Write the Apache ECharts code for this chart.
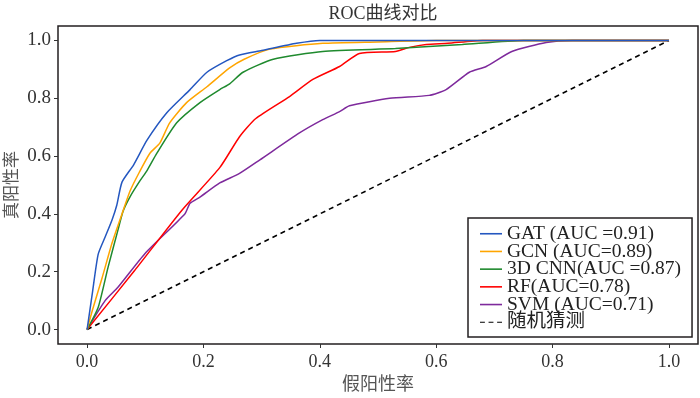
<!DOCTYPE html>
<html>
<head>
<meta charset="utf-8">
<script src="https://cdn.jsdelivr.net/npm/echarts@6/dist/echarts.min.js"></script>
<style>
* { margin: 0; padding: 0; }
#main { width: 700px; height: 398px; }
</style>
</head>
<body>
<div id="main"></div>
<script>
// 各模型的 ROC 数据
const gatFpr = [0, 0.009, 0.019, 0.031, 0.043, 0.051, 0.06, 0.08, 0.103, 0.137, 0.177, 0.206, 0.24, 0.262, 0.3, 0.36, 0.4, 0.6, 1];
const gatTpr = [0, 0.125, 0.26, 0.32, 0.38, 0.43, 0.51, 0.57, 0.655, 0.75, 0.83, 0.89, 0.93, 0.95, 0.965, 0.99, 1.0, 1.0, 1.0];

const gcnFpr = [0, 0.009, 0.026, 0.043, 0.06, 0.074, 0.09, 0.108, 0.125, 0.142, 0.171, 0.206, 0.245, 0.27, 0.314, 0.405, 0.5, 0.6, 1];
const gcnTpr = [0, 0.066, 0.18, 0.30, 0.40, 0.48, 0.545, 0.61, 0.645, 0.715, 0.785, 0.84, 0.905, 0.935, 0.97, 0.99, 0.995, 1.0, 1.0];

const cnnFpr = [0, 0.019, 0.036, 0.053, 0.062, 0.074, 0.091, 0.103, 0.12, 0.154, 0.194, 0.228, 0.245, 0.268, 0.32, 0.405, 0.53, 0.645, 0.75, 1];
const cnnTpr = [0, 0.076, 0.215, 0.344, 0.41, 0.46, 0.515, 0.55, 0.61, 0.715, 0.785, 0.83, 0.85, 0.89, 0.935, 0.962, 0.972, 0.986, 1.0, 1.0];

const rfFpr = [0, 0.082, 0.163, 0.228, 0.262, 0.29, 0.348, 0.388, 0.434, 0.468, 0.53, 0.554, 0.583, 0.62, 0.68, 1];
const rfTpr = [0, 0.205, 0.413, 0.56, 0.667, 0.73, 0.806, 0.865, 0.91, 0.955, 0.962, 0.976, 0.986, 0.99, 1.0, 1.0];

const svmFpr = [0, 0.031, 0.053, 0.1, 0.168, 0.177, 0.194, 0.228, 0.262, 0.297, 0.365, 0.405, 0.434, 0.451, 0.52, 0.588, 0.617, 0.657, 0.686, 0.73, 0.789, 0.834, 1];
const svmTpr = [0, 0.10, 0.146, 0.264, 0.40, 0.437, 0.458, 0.507, 0.54, 0.587, 0.68, 0.726, 0.754, 0.774, 0.80, 0.81, 0.83, 0.89, 0.91, 0.962, 0.993, 1.0, 1.0];

const randFpr = [0, 1];
const randTpr = [0, 1];

const names = ['GAT (AUC =0.91)', 'GCN (AUC=0.89)', '3D CNN(AUC =0.87)', 'RF(AUC=0.78)', 'SVM (AUC=0.71)', '随机猜测'];
const colors = ['#2457c0', '#ffa500', '#1f8a2e', '#ff0000', '#7e2a9c', '#000000'];
const tickValues = [0, 0.2, 0.4, 0.6, 0.8, 1.0];

function pairs(xs, ys) {
  return xs.map((x, i) => [x, ys[i]]);
}

const serif = '"Liberation Serif", "Noto Sans CJK SC", serif';

var chart = echarts.init(document.getElementById('main'));

const curves = [
  pairs(gatFpr, gatTpr),
  pairs(gcnFpr, gcnTpr),
  pairs(cnnFpr, cnnTpr),
  pairs(rfFpr, rfTpr),
  pairs(svmFpr, svmTpr)
];

let series = curves.map((d, i) => ({
  name: names[i],
  type: 'line',
  data: d,
  symbol: 'none',
  smooth: 0.2,
  lineStyle: { color: colors[i], width: 1.5 },
  itemStyle: { color: colors[i] },
  z: 10 - i
}));
series.push({
  name: names[5],
  type: 'line',
  data: pairs(randFpr, randTpr),
  symbol: 'none',
  lineStyle: { color: '#000', width: 1.6, type: [5, 4] },
  itemStyle: { color: '#000' }
});

// 图例：实线用细矩形，随机猜测用三段虚线
const dashIcon = 'path://M0,0h4v1h-4z M7,0h4v1h-4z M14,0h4v1h-4z';
const legendData = names.map((n, i) => ({ name: n, icon: i === 5 ? dashIcon : 'rect' }));

chart.setOption({
  animation: false,
  backgroundColor: '#fff',
  title: {
    text: 'ROC曲线对比',
    left: 378,
    textAlign: 'center',
    top: 0,
    textStyle: { fontFamily: serif, fontSize: 18, fontWeight: 'normal', color: '#333' }
  },
  grid: {
    left: 58, right: 2, top: 26, bottom: 54,
    outerBoundsMode: 'none',
    show: true, borderColor: '#231f20', borderWidth: 1.5
  },
  xAxis: {
    type: 'value',
    min: -0.05, max: 1.05,
    name: '假阳性率',
    nameLocation: 'middle',
    nameGap: 32,
    nameMoveOverlap: false,
    nameTextStyle: { fontFamily: serif, fontSize: 18, color: '#555' },
    axisLine: { show: false, onZero: false },
    splitLine: { show: false },
    axisTick: { show: true, length: 4, customValues: tickValues, lineStyle: { color: '#333' } },
    axisLabel: {
      customValues: tickValues,
      formatter: v => v.toFixed(1),
      fontFamily: serif, fontSize: 18, color: '#333', margin: 9
    }
  },
  yAxis: {
    type: 'value',
    min: -0.05, max: 1.05,
    name: '真阳性率',
    nameLocation: 'middle',
    nameGap: 37,
    nameMoveOverlap: false,
    nameTextStyle: { fontFamily: serif, fontSize: 17, color: '#555' },
    axisLine: { show: false, onZero: false },
    splitLine: { show: false },
    axisTick: { show: true, length: 4, customValues: tickValues, lineStyle: { color: '#333' } },
    axisLabel: {
      customValues: tickValues,
      formatter: v => v.toFixed(1),
      fontFamily: serif, fontSize: 19, color: '#333', margin: 7
    }
  },
  legend: {
    orient: 'vertical',
    left: 468,
    top: 218,
    data: legendData,
    padding: [6, 11, 5, 12],
    itemGap: -1.8,
    itemWidth: 22,
    itemHeight: 1.6,
    backgroundColor: '#fff',
    borderColor: '#231f20',
    borderWidth: 1.5,
    borderRadius: 0,
    textStyle: { fontFamily: serif, fontSize: 19.5, lineHeight: 17, color: '#222' }
  },
  series: series
});
</script>
</body>
</html>
